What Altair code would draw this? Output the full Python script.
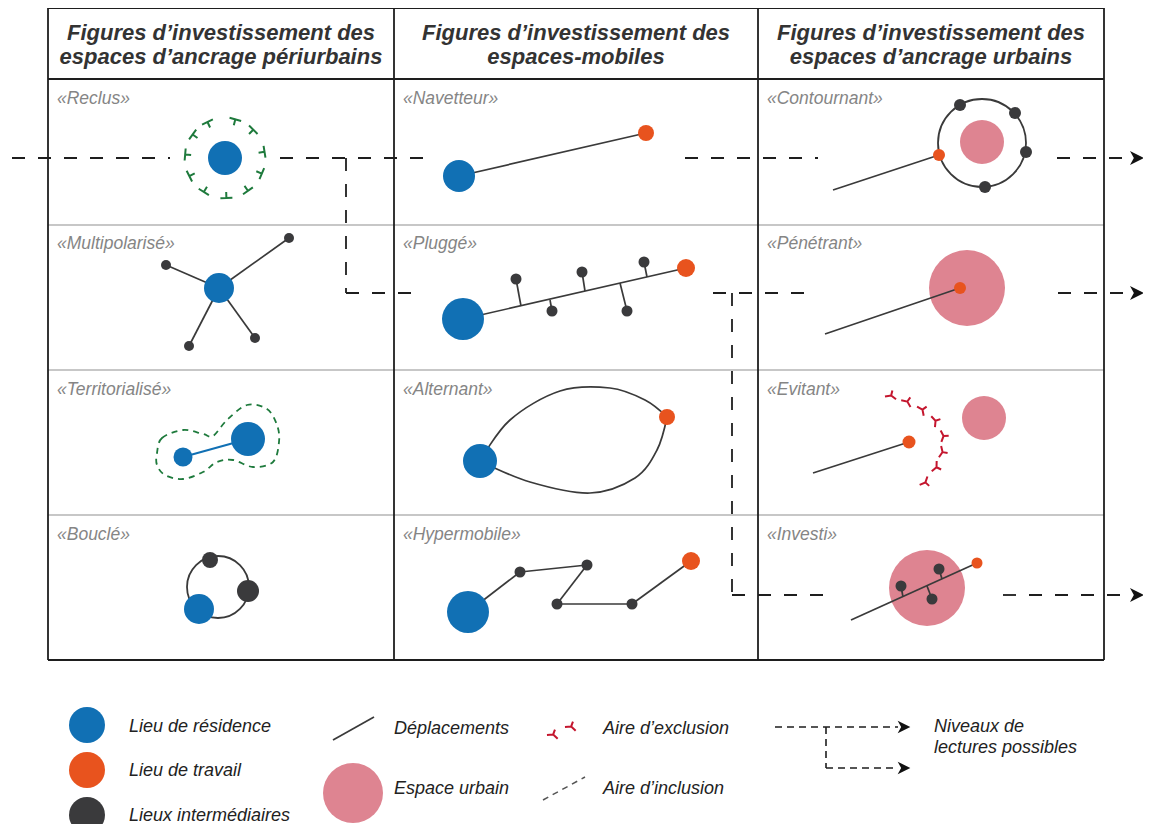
import math
import altair as alt
import pandas as pd

W, H = 1135, 816

# ---------------- table frame (diagram coordinates = page pixels) ----------------
FRAME = [(48, 8, 1104, 8), (48, 79, 1104, 79), (48, 660, 1104, 660),
         (48, 8, 48, 660), (394, 8, 394, 660), (758, 8, 758, 660), (1104, 8, 1104, 660)]
ROW_LINES_Y = [225, 370, 515]

COL_CENTER = [221, 576, 931]
HEAD_LINE1 = ["Figures d’investissement des"] * 3
HEAD_LINE2 = ["espaces d’ancrage périurbains", "espaces-mobiles", "espaces d’ancrage urbains"]
HEAD_Y = [33, 57]

CELL_NAMES = ["«Reclus»", "«Multipolarisé»", "«Territorialisé»", "«Bouclé»",
              "«Navetteur»", "«Pluggé»", "«Alternant»", "«Hypermobile»",
              "«Contournant»", "«Pénétrant»", "«Evitant»", "«Investi»"]
CELL_COL_X = [57, 403, 767]
CELL_ROW_Y = [99, 244, 390, 535]

# ---------------- reading levels (dashed) ----------------
READ_SEGS = [(12, 158, 170, 158), (280, 158, 430, 158), (685, 158, 818, 158), (1057, 158, 1131, 158),
             (346, 158, 346, 293), (346, 293, 420, 293), (713, 293, 805, 293), (1058, 293, 1131, 293),
             (732, 293, 732, 595), (732, 595, 825, 595), (1003, 595, 1131, 595)]
READ_ARROWS = [(1137, 158), (1137, 293), (1137, 595)]

LEG_READ_SEGS = [(775, 727, 898, 727), (826, 727, 826, 768), (826, 768, 898, 768)]
LEG_READ_ARROWS = [(904, 727), (904, 768)]

# ---------------- movements ----------------
NAVETTEUR = [(459, 176), (646, 133)]
MULTI_HUB = (219, 288)
MULTI_ENDS = [(166, 265), (289, 238), (189, 346), (255, 338)]
PLUGGE = [(463, 319), (686, 268)]
PLUGGE_STEMS = [(516, 279, 521, 306), (552, 311, 550, 300), (582, 272, 585, 291),
                (627, 311, 620, 283), (644, 262, 647, 277)]
HYPER = [(468, 612), (520, 572), (587, 565), (557, 604), (632, 604), (691, 561)]
CONTOURNANT = [(833, 190), (939, 155)]
PENETRANT = [(825, 334), (960, 288)]
EVITANT = [(813, 473), (909, 442)]
INVESTI = [(851, 620), (977, 563)]
INVESTI_STEMS = [(901, 586, 903, 597), (939, 569, 942, 579), (932, 599, 927, 586)]
LEGEND_MOVE = [(333, 740), (374, 717)]

ALT_UPPER = [(480, 461), (510, 420), (560, 391), (610, 388), (645, 400), (667, 417)]
ALT_LOWER = [(480, 461), (530, 482), (590, 493), (635, 478), (657, 450), (667, 417)]

TERRI_LINK = [(183, 457), (248, 439)]
TERRI_ZONE = [(157, 453), (162, 438), (183, 430), (203, 434), (213, 436), (227, 420), (247, 405),
              (267, 409), (277, 425), (279, 442), (273, 462), (253, 467), (233, 460), (217, 462),
              (203, 472), (183, 479), (165, 475), (157, 465)]
LEG_INCLUSION = [(543, 800), (585, 777)]

# ---------------- places (x, y, radius) ----------------
RESIDENCE = [(225, 158, 17), (459, 176, 16), (219, 288, 15), (463, 319, 21), (183, 457, 9.5),
             (248, 439, 17), (480, 461, 17), (199, 609, 15), (468, 612, 21), (87, 725, 18)]
WORK = [(646, 133, 8), (686, 268, 9), (667, 417, 8), (691, 561, 9), (939, 155, 6),
        (960, 288, 6), (909, 442, 6.5), (977, 563, 5.5), (87, 770, 18)]
INTERMEDIATE = [(166, 265, 5), (289, 238, 5), (189, 346, 5), (255, 338, 5),
                (516, 279, 5.5), (552, 311, 5.5), (582, 272, 5.5), (627, 311, 5.5), (644, 262, 5.5),
                (210, 560, 8), (248, 591, 11),
                (520, 572, 5.5), (587, 565, 5.5), (557, 604, 5.5), (632, 604, 5.5),
                (960, 105, 6), (1015, 113, 6), (1026, 152, 6), (985, 187, 6),
                (901, 586, 5.5), (939, 569, 5.5), (932, 599, 5.5), (87, 815, 18)]
URBAN = [(982, 142, 22), (967, 288, 38), (984, 418, 22), (927, 588, 38), (353, 793, 30)]
RINGS = [(982, 143, 44), (218, 587, 31)]

# inclusion ring of «Reclus»: centre, radius, tick angles (deg, clockwise from top)
RECLUS_RING = (225, 158, 40)
RECLUS_TICKS = [15, 45, 81, 113, 145, 178, 212, 243, 275, 306, 334]

# exclusion ticks of «Evitant»
EVITANT_TICKS = [(891, 396), (907, 402), (922, 410), (935, 421), (943, 436), (942, 452), (936, 467), (925, 482)]
EVITANT_BEND = (880, 440)
LEG_EXCL_TICKS = [(553, 735), (571, 727)]

LEGEND_TEXT = [("Lieu de résidence", 129, 727), ("Lieu de travail", 129, 771),
               ("Lieux intermédiaires", 129, 816), ("Déplacements", 394, 729),
               ("Espace urbain", 394, 789), ("Aire d’exclusion", 603, 729),
               ("Aire d’inclusion", 603, 789), ("Niveaux de", 934, 727),
               ("lectures possibles", 934, 748)]

# ---------------- colours ----------------
C_BLUE, C_ORANGE, C_DARK, C_PINK = "#1170b4", "#e8531e", "#3a3a3c", "#de8491"
C_GREEN, C_RED, C_LINE = "#1e7a3c", "#c4162e", "#3a3a3a"

XS = alt.Scale(domain=[8, 8 + W], nice=False, zero=False)
YS = alt.Scale(domain=[8, 8 + H], nice=False, zero=False, reverse=True)


def seg_df(segs):
    return pd.DataFrame(segs, columns=["x", "y", "x2", "y2"])


def path_segs(pts):
    return [(pts[i][0], pts[i][1], pts[i + 1][0], pts[i + 1][1]) for i in range(len(pts) - 1)]


def rules(df, **kw):
    return alt.Chart(df).mark_rule(**kw).encode(
        x=alt.X("x:Q", scale=XS, axis=None), y=alt.Y("y:Q", scale=YS, axis=None),
        x2="x2:Q", y2="y2:Q")


def circles(items, color, filled=True, **kw):
    df = pd.DataFrame([(x, y, (2 * r) ** 2) for x, y, r in items], columns=["x", "y", "s"])
    return alt.Chart(df).mark_point(shape="circle", filled=filled, opacity=1, color=color, **kw).encode(
        x=alt.X("x:Q", scale=XS, axis=None), y=alt.Y("y:Q", scale=YS, axis=None),
        size=alt.Size("s:Q", scale=None))


def glyphs(rows, color, shape, size, width=1.8, filled=False):
    df = pd.DataFrame(rows, columns=["x", "y", "a"])
    return alt.Chart(df).mark_point(shape=shape, filled=filled, opacity=1, color=color,
                                    size=size, strokeWidth=width).encode(
        x=alt.X("x:Q", scale=XS, axis=None), y=alt.Y("y:Q", scale=YS, axis=None),
        angle=alt.Angle("a:Q", scale=None))


def curve(paths, color, interp, **kw):
    rows = []
    for pid, pts in enumerate(paths):
        for i, (x, y) in enumerate(pts):
            rows.append((pid, i, x, y))
    df = pd.DataFrame(rows, columns=["pid", "o", "x", "y"])
    return alt.Chart(df).mark_line(interpolate=interp, color=color, **kw).encode(
        x=alt.X("x:Q", scale=XS, axis=None), y=alt.Y("y:Q", scale=YS, axis=None),
        detail="pid:N", order="o:Q")


def texts(rows, **kw):
    df = pd.DataFrame(rows, columns=["t", "x", "y"])
    return alt.Chart(df).mark_text(**kw).encode(
        x=alt.X("x:Q", scale=XS, axis=None), y=alt.Y("y:Q", scale=YS, axis=None), text="t:N")


def stem_angle(px, py, tx, ty):
    return math.degrees(math.atan2(-(tx - px), ty - py)) % 360


T_SHAPE = "M-1,0L1,0M0,0L0,1"
Y_SHAPE = "M-1,-0.35L0,0.1L1,-0.35M0,0.1L0,1"
ARROW = "M-1,-1L1,0L-1,1L-0.45,0Z"

# ---- derived tables ----
grid = seg_df([(48, y, 1104, y) for y in ROW_LINES_Y])
frame = seg_df(FRAME)
read = seg_df(READ_SEGS)
leg_read = seg_df(LEG_READ_SEGS)

moves = []
for p in [NAVETTEUR, PLUGGE, HYPER, CONTOURNANT, PENETRANT, EVITANT, INVESTI, LEGEND_MOVE]:
    moves += path_segs(p)
moves += [(MULTI_HUB[0], MULTI_HUB[1], x, y) for x, y in MULTI_ENDS]
moves += PLUGGE_STEMS + INVESTI_STEMS
moves = seg_df(moves)

cx, cy, cr = RECLUS_RING
reclus_rows = [(cx + cr * math.sin(math.radians(a)), cy - cr * math.cos(math.radians(a)), a)
               for a in RECLUS_TICKS]
evit_rows = [(x, y, stem_angle(x, y, 2 * x - EVITANT_BEND[0], 2 * y - EVITANT_BEND[1]))
             for x, y in EVITANT_TICKS]
leg_excl_rows = [(x, y, 200) for x, y in LEG_EXCL_TICKS]

header_rows = [(t, x, HEAD_Y[0]) for t, x in zip(HEAD_LINE1, COL_CENTER)] + \
              [(t, x, HEAD_Y[1]) for t, x in zip(HEAD_LINE2, COL_CENTER)]
label_rows = [(name, CELL_COL_X[i // 4], CELL_ROW_Y[i % 4]) for i, name in enumerate(CELL_NAMES)]

layers = [
    circles(URBAN, C_PINK, strokeWidth=0),
    rules(grid, color="#b4b4b4", strokeWidth=1.5),
    rules(frame, color="#1e1e1e", strokeWidth=1.8),
    rules(read, color="#1e1e1e", strokeWidth=1.8, strokeDash=[13, 13]),
    rules(leg_read, color="#1e1e1e", strokeWidth=1.6, strokeDash=[7, 5]),
    glyphs([(x, y, 0) for x, y in READ_ARROWS], "#111", ARROW, 196, width=0, filled=True),
    glyphs([(x, y, 0) for x, y in LEG_READ_ARROWS], "#111", ARROW, 160, width=0, filled=True),
    circles(RINGS, C_LINE, filled=False, strokeWidth=1.8),
    rules(moves, color=C_LINE, strokeWidth=1.7),
    curve([ALT_UPPER, ALT_LOWER], C_LINE, "cardinal", strokeWidth=1.7),
    curve([TERRI_ZONE], C_GREEN, "cardinal-closed", strokeWidth=1.8, strokeDash=[6, 5]),
    curve([LEG_INCLUSION], "#555555", "linear", strokeWidth=1.5, strokeDash=[6, 5]),
    rules(seg_df(path_segs(TERRI_LINK)), color=C_BLUE, strokeWidth=2),
    glyphs(reclus_rows, C_GREEN, T_SHAPE, 144, width=2),
    glyphs(evit_rows, C_RED, Y_SHAPE, 130, width=2),
    glyphs(leg_excl_rows, C_RED, Y_SHAPE, 130, width=2),
    circles(RESIDENCE, C_BLUE, strokeWidth=0),
    circles(WORK, C_ORANGE, strokeWidth=0),
    circles(INTERMEDIATE, C_DARK, strokeWidth=0),
    texts(header_rows, align="center", baseline="middle", font="Liberation Sans",
          fontSize=22, fontWeight="bold", fontStyle="italic", color="#333333"),
    texts(label_rows, align="left", baseline="middle", font="Liberation Sans",
          fontSize=17.5, fontStyle="italic", color="#858585"),
    texts(LEGEND_TEXT, align="left", baseline="middle", font="Liberation Sans",
          fontSize=18, fontStyle="italic", color="#222222"),
]

chart = alt.layer(*layers).properties(
    width=W, height=H, padding=0, autosize=alt.AutoSizeParams(type="none"),
    background="white"
).configure_view(strokeWidth=0)

chart.save("out.html", embed_options={"renderer": "svg", "actions": False})
